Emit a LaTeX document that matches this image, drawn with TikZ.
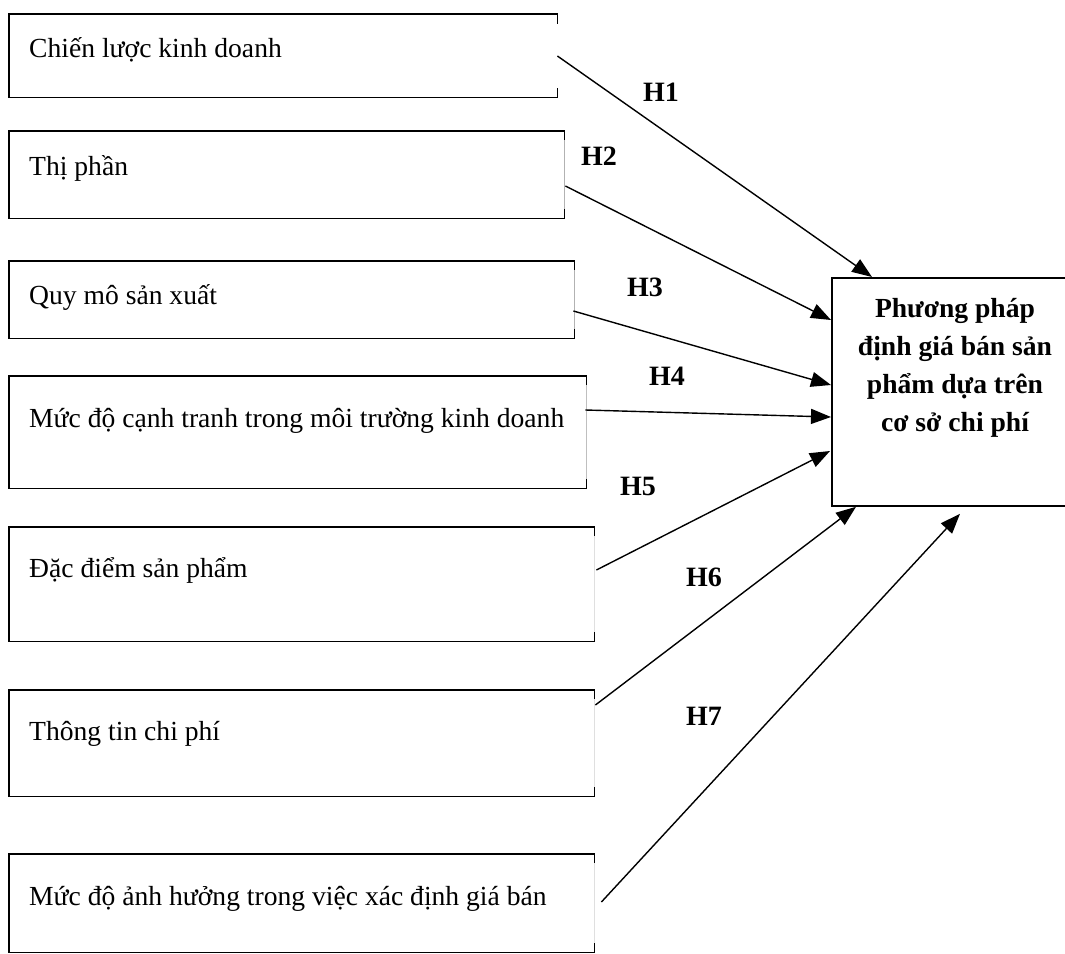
\documentclass[tikz,border=0pt]{standalone}
\usepackage{fontspec}
\setmainfont{Liberation Serif}
\usetikzlibrary{arrows.meta,calc}
\newcommand\srcborder[2]{%
  \draw[edge] (#1.north east) -- (#1.north west) -- (#1.south west) -- (#1.south east);
  \draw[edge] (#1.north east) -- ++(0,9);
  \draw[edge] (#1.south east) -- ++(0,-9);
  \draw[line width=1.2pt,#2] ($(#1.north east)+(0,9)$) -- ($(#1.south east)+(0,-9)$);
}
\begin{document}
\begin{tikzpicture}[x=1pt,y=-1pt,
  srcbox/.style={draw=none,inner sep=0pt,anchor=north west},
  srctext/.style={anchor=base west,inner sep=0pt,font=\fontsize{27.6}{32}\selectfont},
  edge/.style={line width=1.8pt,line cap=rect},
  arr/.style={line width=1.4pt,-{Triangle[length=20pt,width=15pt]}},
  hlabel/.style={font=\fontsize{28}{32}\selectfont\bfseries,inner sep=0pt},
  tgtbox/.style={draw,line width=1.8pt,inner sep=0pt,anchor=north west},
  tgttext/.style={align=center,inner sep=0pt,font=\fontsize{27.6}{38}\selectfont\bfseries},
]
\useasboundingbox (0,0) rectangle (1065,953);
\clip (0,0) rectangle (1065,953);

% source boxes
\node[srcbox,minimum width=548pt,minimum height=83pt] (b1) at (9,14) {};
\node[srcbox,minimum width=555pt,minimum height=87pt] (b2) at (9,131) {};
\node[srcbox,minimum width=565pt,minimum height=77pt] (b3) at (9,261) {};
\node[srcbox,minimum width=577pt,minimum height=112pt] (b4) at (9,376) {};
\node[srcbox,minimum width=585pt,minimum height=114pt] (b5) at (9,527) {};
\node[srcbox,minimum width=585pt,minimum height=106pt] (b6) at (9,690) {};
\node[srcbox,minimum width=585pt,minimum height=98pt] (b7) at (9,854) {};

\srcborder{b1}{draw=none}
\srcborder{b2}{gray!60}
\srcborder{b3}{gray!60}
\srcborder{b4}{gray!50}
\srcborder{b5}{gray!25}
\srcborder{b6}{gray!25}
\srcborder{b7}{gray!25}

\node[srctext] (t1) at (29,57) {Chiến lược kinh doanh};
\node[srctext] (t2) at (29,175) {Thị phần};
\node[srctext] (t3) at (29,304) {Quy mô sản xuất};
\node[srctext] (t4) at (29,427) {Mức độ cạnh tranh trong môi trường kinh doanh};
\node[srctext] (t5) at (29,577) {Đặc điểm sản phẩm};
\node[srctext] (t6) at (29,740) {Thông tin chi phí};
\node[srctext] (t7) at (29,905) {Mức độ ảnh hưởng trong việc xác định giá bán};

% target box
\node[tgtbox,minimum width=248pt,minimum height=228pt] (tgt) at (831,277) {};
\node[tgttext] (tt) at (955,368) {Phương pháp\\định giá bán sản\\phẩm dựa trên\\cơ sở chi phí};

% connectors
\draw[arr] ($(b1.north east)+(0,42)$) -- ($(tgt.north west)+(41,0)$);
\draw[arr] ($(b2.north east)+(1,55)$) -- ($(tgt.north west)+(0,43)$);
\draw[arr] ($(b3.north east)+(-1,50)$) -- ($(tgt.north west)+(0,108)$);
\draw[arr] ($(b4.north east)+(-1,34)$) -- ($(tgt.north west)+(0,140)$);
\draw[arr] ($(b5.north east)+(2,43)$) -- ($(tgt.north west)+(-1,174)$);
\draw[arr] ($(b6.north east)+(1,15)$) -- ($(tgt.south west)+(25,0)$);
\draw[arr] ($(b7.north east)+(7,48)$) -- ($(tgt.south west)+(129,7)$);

% labels
\node[hlabel] (h1) at (661,92) {H1};
\node[hlabel] (h2) at (599,156) {H2};
\node[hlabel] (h3) at (645,287) {H3};
\node[hlabel] (h4) at (667,376) {H4};
\node[hlabel] (h5) at (638,486) {H5};
\node[hlabel] (h6) at (704,577) {H6};
\node[hlabel] (h7) at (704,716) {H7};
\end{tikzpicture}
\end{document}
